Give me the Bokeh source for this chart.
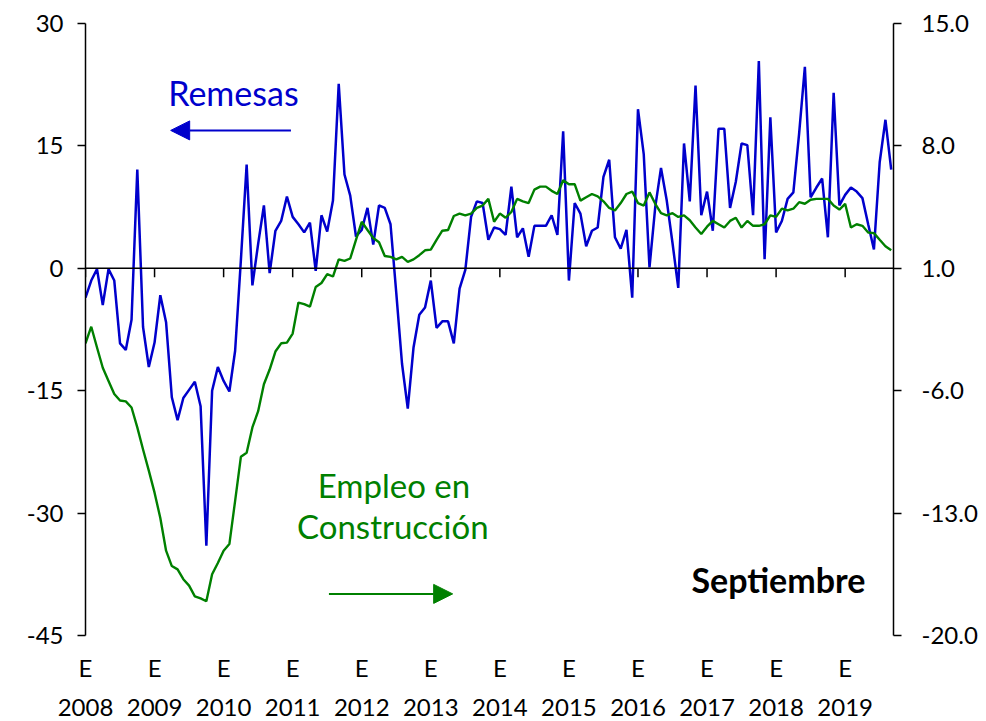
from bokeh.plotting import figure
from bokeh.models import Range1d, LinearAxis, FixedTicker, Arrow, NormalHead, Label, Span
from bokeh.embed import file_html
from bokeh.resources import INLINE

# Remesas (variación anual %, eje izquierdo), enero 2008 - septiembre 2019
remesas = [
    -3.6, -1.5, -0.1, -4.5, -0.1, -1.5, -9.2, -10.0, -6.3, 12.1, -7.2, -12.1,
    -9.1, -3.3, -6.6, -15.8, -18.6, -15.9, -14.9, -13.9, -16.9, -34.0, -15.0, -12.1,
    -13.8, -15.1, -10.1, 1.0, 12.7, -2.1, 3.0, 7.7, -0.6, 4.6, 5.8, 8.8,
    6.3, 5.4, 4.4, 5.6, -0.3, 6.5, 4.5, 8.3, 22.6, 11.5, 8.9, 3.9,
    4.7, 7.4, 2.9, 7.7, 7.4, 5.4, -3.0, -11.7, -17.2, -9.7, -5.7, -4.8,
    -1.5, -7.3, -6.5, -6.5, -9.2, -2.5, -0.2, 6.3, 8.2, 8.0, 3.5, 5.0,
    4.8, 4.1, 10.0, 3.8, 4.9, 1.4, 5.2, 5.2, 5.2, 6.5, 4.1, 16.8,
    -1.5, 8.0, 6.7, 2.7, 4.6, 5.0, 11.2, 13.3, 3.8, 2.4, 4.7, -3.6,
    19.5, 14.0, 0.1, 7.5, 12.3, 8.3, 3.1, -2.4, 15.3, 8.2, 22.4, 6.5,
    9.4, 4.6, 17.1, 17.1, 7.4, 10.6, 15.3, 15.1, 6.5, 25.4, 1.1, 18.5,
    4.4, 5.8, 8.5, 9.3, 16.5, 24.7, 8.7, 9.9, 11.0, 3.8, 21.5, 7.7,
    9.0, 9.9, 9.4, 8.6, 5.4, 2.3, 13.0, 18.2, 12.1,
]

# Empleo en construcción (variación anual %, eje derecho)
empleo = [
    -3.29, -2.34, -3.53, -4.69, -5.44, -6.19, -6.56, -6.61, -6.96, -8.10, -9.36, -10.57,
    -11.83, -13.28, -15.15, -16.03, -16.22, -16.78, -17.15, -17.76, -17.88, -18.04, -16.50, -15.85,
    -15.15, -14.77, -12.30, -9.78, -9.55, -8.10, -7.17, -5.63, -4.79, -3.76, -3.29, -3.25,
    -2.73, -0.96, -1.05, -1.19, -0.07, 0.16, 0.67, 0.53, 1.51, 1.42, 1.56, 2.63,
    3.66, 3.19, 2.73, 2.49, 1.70, 1.65, 1.51, 1.65, 1.37, 1.51, 1.75, 2.03,
    2.07, 2.63, 3.15, 3.19, 3.99, 4.13, 4.03, 4.13, 4.45, 4.59, 4.97, 3.66,
    4.13, 3.89, 4.22, 4.97, 4.83, 4.73, 5.50, 5.67, 5.67, 5.43, 5.25, 6.04,
    5.81, 5.81, 4.87, 5.06, 5.25, 5.11, 4.83, 4.45, 4.31, 4.73, 5.25, 5.39,
    4.73, 4.59, 5.34, 4.69, 4.15, 4.03, 4.15, 3.94, 4.03, 3.75, 3.33, 2.96,
    3.38, 3.71, 3.52, 3.33, 3.71, 3.89, 3.33, 3.71, 3.43, 3.43, 3.52, 4.03,
    3.94, 4.41, 4.31, 4.41, 4.78, 4.69, 4.92, 4.97, 4.97, 4.97, 4.59, 4.36,
    4.69, 3.33, 3.52, 3.43, 3.05, 3.01, 2.63, 2.26, 2.03,
]

year_labels = ["2008", "2009", "2010", "2011", "2012", "2013",
               "2014", "2015", "2016", "2017", "2018", "2019"]
month_label = "E"
left_ticks = [-45, -30, -15, 0, 15, 30]
right_ticks = [-20.0, -13.0, -6.0, 1.0, 8.0, 15.0]

months = list(range(len(remesas)))
tick_x = [12 * i for i in range(len(year_labels))]

BLUE = "#0000CC"
GREEN = "#008000"
FONT = "Lato"
TICK_SIZE = "24px"

p = figure(frame_width=808, frame_height=612,
           x_range=Range1d(0, 140.4), y_range=Range1d(-45, 30),
           output_backend="svg", toolbar_location=None,
           x_axis_location=None, y_axis_location="left",
           min_border_left=85, min_border_right=93,
           min_border_top=23, min_border_bottom=86)
p.outline_line_color = None
p.grid.visible = False
p.background_fill_color = "white"
p.border_fill_color = "white"

p.extra_y_ranges = {"right": Range1d(-20, 15)}

# Left axis
ya = p.yaxis[0]
ya.ticker = FixedTicker(ticks=left_ticks)
ya.major_label_overrides = {t: str(t) for t in left_ticks}
ya.axis_line_width = 1.5
ya.major_tick_line_width = 1.5
ya.major_tick_out = 8
ya.major_tick_in = 0
ya.minor_tick_line_color = None
ya.major_label_standoff = 14
ya.major_label_text_font = FONT
ya.major_label_text_font_size = TICK_SIZE
ya.major_label_text_color = "black"

# Right axis
ra = LinearAxis(y_range_name="right", ticker=FixedTicker(ticks=right_ticks),
                major_label_overrides={t: f"{t:.1f}" for t in right_ticks},
                axis_line_width=1.5, major_tick_line_width=1.5,
                major_tick_out=8, major_tick_in=0, minor_tick_line_color=None,
                major_label_standoff=20, major_label_text_font=FONT,
                major_label_text_font_size=TICK_SIZE, major_label_text_color="black")
p.add_layout(ra, "right")

# Bottom label rows
ax_e = LinearAxis(ticker=FixedTicker(ticks=tick_x),
                  major_label_overrides={t: month_label for t in tick_x},
                  axis_line_color=None, major_tick_line_color=None,
                  major_tick_out=0, major_tick_in=0, minor_tick_line_color=None,
                  major_label_standoff=17, major_label_text_font=FONT,
                  major_label_text_font_size=TICK_SIZE, major_label_text_color="black")
ax_y = LinearAxis(ticker=FixedTicker(ticks=tick_x),
                  major_label_overrides={t: lab for t, lab in zip(tick_x, year_labels)},
                  axis_line_color=None, major_tick_line_color=None,
                  major_tick_out=0, major_tick_in=0, minor_tick_line_color=None,
                  major_label_standoff=14, major_label_text_font=FONT,
                  major_label_text_font_size=TICK_SIZE, major_label_text_color="black")
p.add_layout(ax_e, "below")
p.add_layout(ax_y, "below")

# Zero line with year ticks
p.add_layout(Span(location=0, dimension="width", line_color="black", line_width=1.5))
p.segment(x0=tick_x, y0=[0] * len(tick_x), x1=tick_x, y1=[-1.1] * len(tick_x),
          line_color="black", line_width=1.5)

# Series
p.line(months, remesas, line_color=BLUE, line_width=2.5)
p.line(months, empleo, y_range_name="right", line_color=GREEN, line_width=2.4)

# Annotations
p.add_layout(Label(x=25.7, y=21.6, text="Remesas", text_align="center",
                   text_baseline="middle", text_color=BLUE,
                   text_font=FONT, text_font_size="34px"))
p.add_layout(Arrow(end=NormalHead(size=19, fill_color=BLUE, line_color=BLUE),
                   x_start=35.7, y_start=16.9, x_end=14.8, y_end=16.9,
                   line_color=BLUE, line_width=2))
p.add_layout(Label(x=53.6, y=-26.5, text="Empleo en", text_align="center",
                   text_baseline="middle", text_color=GREEN,
                   text_font=FONT, text_font_size="33px"))
p.add_layout(Label(x=53.4, y=-31.6, text="Construcción", text_align="center",
                   text_baseline="middle", text_color=GREEN,
                   text_font=FONT, text_font_size="33px"))
p.add_layout(Arrow(end=NormalHead(size=19, fill_color=GREEN, line_color=GREEN),
                   x_start=42.3, y_start=-39.9, x_end=63.8, y_end=-39.9,
                   line_color=GREEN, line_width=2))
p.add_layout(Label(x=120.4, y=-38.1, text="Septiembre", text_align="center",
                   text_baseline="middle", text_color="black", text_font_style="bold",
                   text_font=FONT, text_font_size="34px"))

open("out.html", "w").write(file_html(p, INLINE))
